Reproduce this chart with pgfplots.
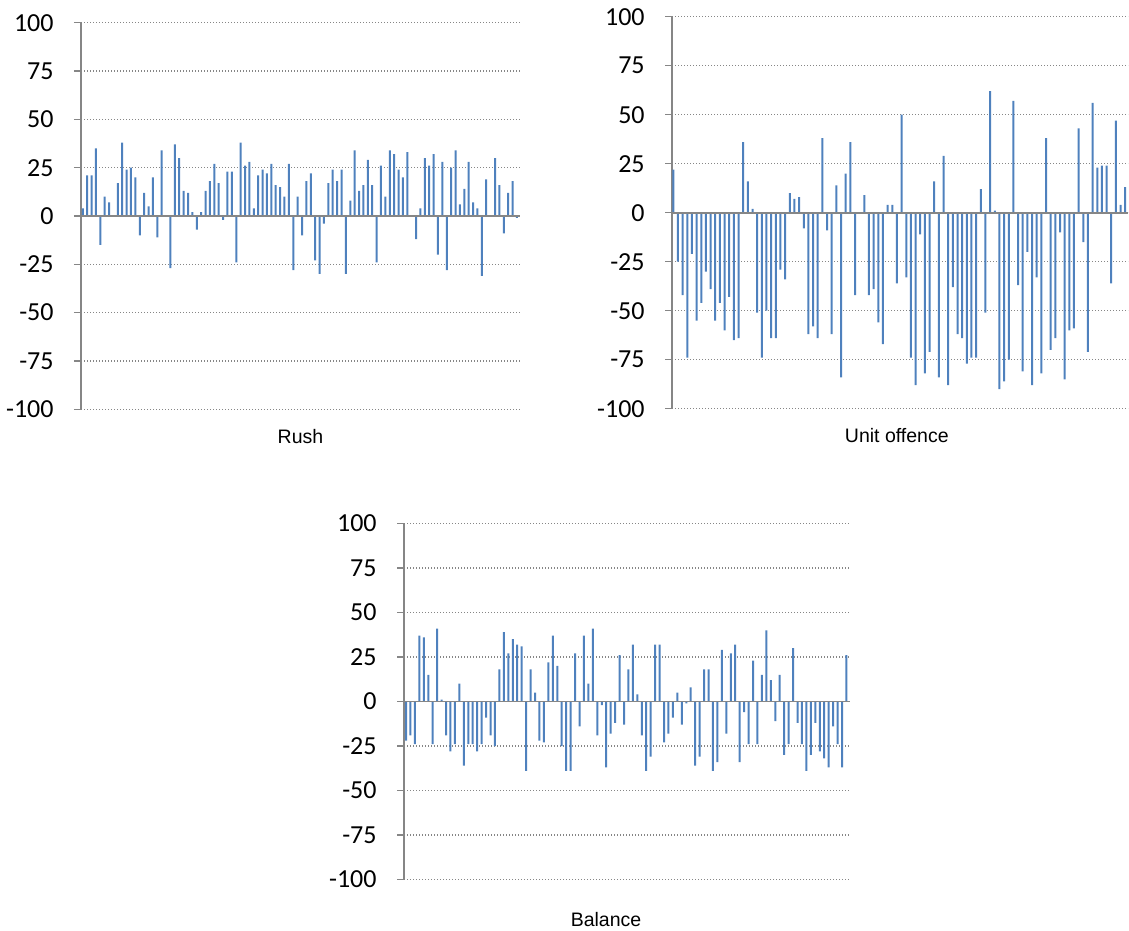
\documentclass[border=0pt]{standalone}
\usepackage{pgfplots}
\pgfplotsset{compat=1.18}
\usepackage{pgfplotstable}
\usepackage{fontspec}
\setmainfont{Liberation Sans}
\newfontfamily\carlito{Carlito}
\definecolor{barblue}{RGB}{79,129,189}
\definecolor{axgray}{RGB}{134,134,134}

\pgfplotstableread{
v
4
21
21
35
-15
10
7
0
17
38
24
25
20
-10
12
5
20
-11
34
0
-27
37
30
13
12
2
-7
2
13
18
27
17
-2
23
23
-24
38
26
28
4
21
24
22
27
16
15
10
27
-28
10
-10
18
22
-23
-30
-4
17
24
18
24
-30
8
34
13
16
29
16
-24
26
10
34
32
24
20
33
0
-12
4
30
26
32
-20
28
-28
25
34
6
14
28
7
4
-31
19
0
30
16
-9
12
18
-1
}\rush

\pgfplotstableread{
v
22
-25
-42
-74
-21
-55
-46
-30
-39
-55
-46
-60
-43
-65
-64
36
16
2
-51
-74
-50
-64
-64
-29
-34
10
7
8
-8
-62
-58
-64
38
-9
-62
14
-84
20
36
-42
0
9
-42
-39
-56
-67
4
4
-36
50
-33
-74
-88
-11
-82
-71
16
-84
29
-88
-38
-62
-64
-77
-74
-74
12
-51
62
1
-90
-86
-75
57
-37
-81
-20
-88
-33
-82
38
-70
-64
-10
-85
-60
-59
43
-15
-71
56
23
24
24
-36
47
4
13
}\unitoff

\pgfplotstableread{
v
-22
-19
-24
37
36
15
-24
41
1
-19
-28
-24
10
-36
-24
-24
-28
-24
-9
-19
-25
18
39
27
35
32
31
-39
18
5
-22
-23
22
37
20
-25
-39
-39
27
-14
37
10
41
-19
-2
-37
-18
-12
26
-13
18
32
4
-19
-39
-31
32
32
-23
-18
-9
5
-13
-1
8
-36
-31
18
18
-39
-34
29
-18
27
32
-34
-6
-24
23
-24
15
40
12
-11
15
-30
-24
30
-12
-24
-39
-30
-12
-28
-32
-37
-14
-24
-37
26
}\balance

\pgfplotsset{
 mychart/.style={
  scale only axis,
  ymin=-100, ymax=100,
  ytick={-100,-75,-50,-25,0,25,50,75,100},
  yticklabels={-100,-75,-50,-25,0,25,50,75,100},
  axis y line*=left,
  axis x line*=bottom,
  axis line style={-},
  y axis line style={draw=axgray, line width=0.75pt},
  x axis line style={draw=none},
  ymajorgrids,
  grid style={axgray, line width=0.6pt, dash pattern=on 0.7pt off 0.8pt},
  major tick style={axgray, line width=0.75pt},
  tick align=outside, major tick length=3.5pt,
  xtick=\empty,
  yticklabel style={font=\carlito\fontsize{13}{15}\selectfont, text=black, inner sep=0pt, xshift=-10pt},
  xlabel style={font=\fontsize{9.75}{12}\selectfont, at={(axis description cs:0.5,0)}, anchor=center, yshift=-13.5pt},
 },
 mybars/.style={ybar, bar width=1pt, fill=barblue, draw=none},
}

\begin{document}
\begin{tikzpicture}
\useasboundingbox (0,0) rectangle (564.5pt,-465.5pt);

\begin{axis}[mychart, at={(40.5pt,-204.65pt)}, anchor=south west,
  width=219.5pt, height=193.3pt, xmin=0.6, xmax=100.7, xlabel={Rush}]
\addplot[mybars] table[x expr=\coordindex+1, y=v] {\rush};
\draw[axgray, line width=0.9pt] (rel axis cs:0,0.5) -- (rel axis cs:1,0.5);
\end{axis}

\begin{axis}[mychart, at={(336pt,-204.35pt)}, anchor=south west,
  width=228pt, height=196pt, xmin=0.72, xmax=98.6, xlabel={Unit offence},
  xlabel style={at={(axis description cs:0.493,0)}}]
\addplot[mybars] table[x expr=\coordindex+1, y=v] {\unitoff};
\draw[axgray, line width=0.9pt] (rel axis cs:0,0.5) -- (rel axis cs:1,0.5);
\end{axis}

\begin{axis}[mychart, at={(202pt,-439.75pt)}, anchor=south west,
  width=223pt, height=178pt, xmin=0.55, xmax=100.8, xlabel={Balance},
  xlabel style={at={(axis description cs:0.453,0)}, yshift=-6.5pt}]
\addplot[mybars] table[x expr=\coordindex+1, y=v] {\balance};
\draw[axgray, line width=0.9pt] (rel axis cs:0,0.5) -- (rel axis cs:1,0.5);
\end{axis}
\end{tikzpicture}
\end{document}
